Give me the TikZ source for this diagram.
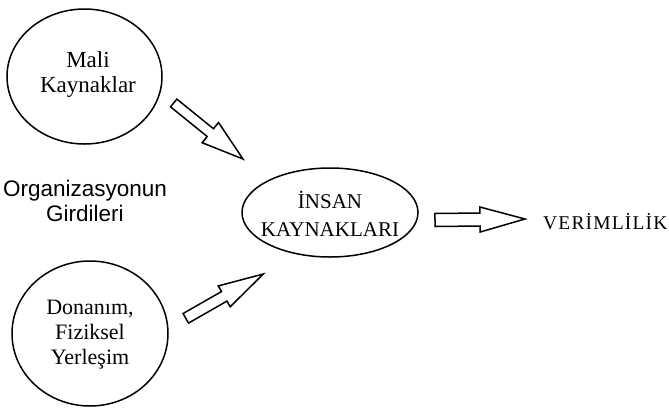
\documentclass[tikz,border=0pt]{standalone}
\usepackage{fontspec}
\setmainfont{Liberation Serif}
\newfontfamily\labelsans{Liberation Sans}
\usetikzlibrary{shapes.geometric,calc}
\tikzset{
  srcshape/.style={draw, ellipse, line width=1.5pt, inner sep=0pt},
  srctext/.style={align=center, inner sep=0pt},
  blockarrow/.style={draw, line width=1.5pt, line join=miter, fill=white},
}
\newcommand{\blockarr}[5]{%
  \coordinate (#1#2neck) at ($(#2)!#5!(#1)$);
  \draw[blockarrow] ($(#1)!#3!90:(#2)$) -- ($(#1#2neck)!#3!90:(#2)$)
    -- ($(#1#2neck)!#4!90:(#2)$) -- (#2) -- ($(#1#2neck)!#4!-90:(#2)$)
    -- ($(#1#2neck)!#3!-90:(#2)$) -- ($(#1)!#3!-90:(#2)$) -- cycle;
}
\begin{document}
\begin{tikzpicture}[x=1pt,y=-1pt]
\useasboundingbox[fill=white] (0,0) rectangle (669,408);

% source shapes
\node[srcshape, minimum width=155pt, minimum height=135pt] (mali) at (84.5,76.5) {};
\node[srcshape, minimum width=156pt, minimum height=145pt] (donanim) at (90,333.5) {};
\node[srcshape, minimum width=176pt, minimum height=89pt] (insan) at (330,212.5) {};

% texts
\node[srctext, font=\fontsize{23}{25.5}\selectfont] (malitext) at (88,74.5) {Mali\\Kaynaklar};
\node[srctext, font=\fontsize{22}{25}\selectfont] (donanimtext) at (90,335) {Donanım,\\Fiziksel\\Yerleşim};
\node[srctext, font=\fontsize{21}{28}\selectfont] (insantext) at (330,213.5) {İNSAN\\KAYNAKLARI};
\node[srctext, font=\labelsans\fontsize{22.5}{25}\selectfont] (girdi) at (85,201) {Organizasyonun\\Girdileri};
\node[inner sep=0pt, anchor=base west, font=\fontsize{19.5}{22}\selectfont\addfontfeature{LetterSpace=6}] (verim) at (543,229) {VERİMLİLİK};

% block arrows
\coordinate (aonet) at (173.7,103);
\coordinate (aoneh) at (243,159);
\coordinate (atwot) at (185.8,318.3);
\coordinate (atwoh) at (263.3,274);
\coordinate (athreet) at (435,220);
\coordinate (athreeh) at (525,219);
\blockarr{aonet}{aoneh}{5pt}{13pt}{42pt}
\blockarr{atwot}{atwoh}{5.5pt}{12pt}{45pt}
\blockarr{athreet}{athreeh}{6.5pt}{12.5pt}{45pt}
\end{tikzpicture}
\end{document}
